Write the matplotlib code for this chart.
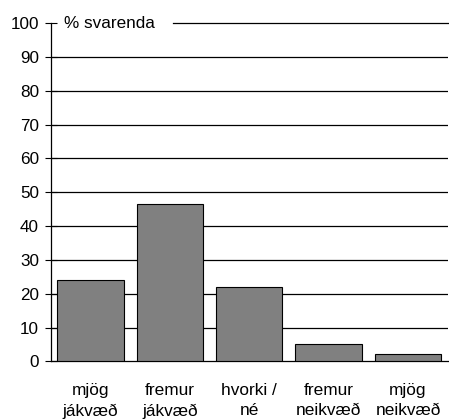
import matplotlib
matplotlib.use("Agg")
import matplotlib.pyplot as plt

categories = ["mjög\njákvæð", "fremur\njákvæð", "hvorki /\nné", "fremur\nneikvæð", "mjög\nneikvæð"]
values = [24.2, 46.6, 21.9, 5.0, 2.1]
yticks = [0, 10, 20, 30, 40, 50, 60, 70, 80, 90, 100]

plt.rcParams['font.family'] = ['Liberation Sans', 'DejaVu Sans']

fig = plt.figure(figsize=(4.49, 4.19), dpi=100)
ax = fig.add_axes([50.7/449, 1-361.3/419, 397/449, (361.3-23.3)/419])

x = list(range(len(categories)))
ax.bar(x, values, width=0.837, color='#808080', edgecolor='black', linewidth=0.8, zorder=3)

ax.set_xlim(-0.5, len(categories) - 0.5)
ax.set_ylim(0, 100)
ax.set_yticks(yticks)
ax.set_yticklabels([str(t) for t in yticks], fontsize=12.3)
ax.set_xticks(x)
ax.set_xticklabels(categories, fontsize=12.4, linespacing=1.45)
ax.tick_params(axis='x', length=0, pad=15.5)
ax.tick_params(axis='y', direction='inout', length=8, width=0.8, pad=4.5)

for t in yticks[1:-1]:
    ax.axhline(t, color='black', linewidth=0.9, zorder=1)
ax.axhline(100, xmin=(173 - 50.7) / 397, xmax=1, color='black', linewidth=0.9, zorder=1, clip_on=False)

for s in ['top', 'right']:
    ax.spines[s].set_visible(False)
ax.spines['left'].set_linewidth(0.9)
ax.spines['bottom'].set_linewidth(0.9)
ax.spines['left'].set_zorder(4)

ax.text(-0.33, 100, "% svarenda", fontsize=12.3, ha='left', va='center', zorder=5)

fig.savefig("out.png", dpi=100)
